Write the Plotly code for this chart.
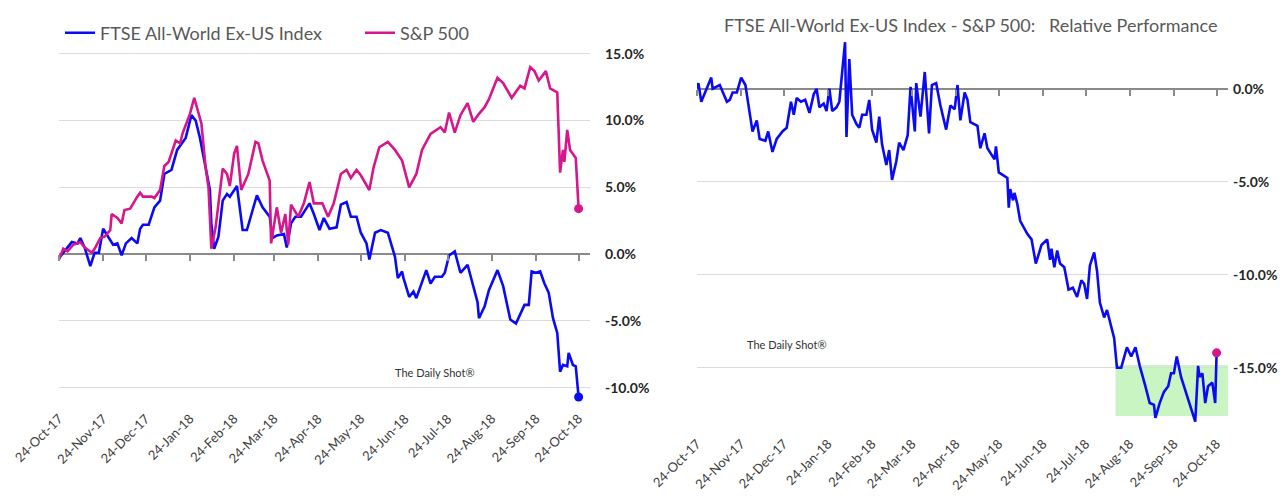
import plotly.graph_objects as go

# ---------------- data ----------------
ftse_dates = ["2017-10-24","2017-11-02","2017-11-06","2017-11-08","2017-11-11","2017-11-15","2017-11-18","2017-11-21",
    "2017-11-24","2017-11-27","2017-12-01","2017-12-04","2017-12-07","2017-12-10","2017-12-14","2017-12-18","2017-12-20",
    "2017-12-22","2017-12-26","2017-12-30","2018-01-03","2018-01-06","2018-01-11","2018-01-15","2018-01-21","2018-01-25",
    "2018-01-28","2018-01-31","2018-02-04","2018-02-07","2018-02-08","2018-02-10","2018-02-13","2018-02-16","2018-02-19",
    "2018-02-21","2018-02-26","2018-03-02","2018-03-05","2018-03-08","2018-03-12","2018-03-16","2018-03-21","2018-03-23",
    "2018-03-26","2018-03-31","2018-04-02","2018-04-05","2018-04-08","2018-04-12","2018-04-18","2018-04-21","2018-04-25",
    "2018-04-28","2018-05-02","2018-05-07","2018-05-10","2018-05-14","2018-05-17","2018-05-21","2018-05-24","2018-05-28",
    "2018-05-30","2018-06-03","2018-06-07","2018-06-12","2018-06-15","2018-06-17","2018-06-19","2018-06-22","2018-06-23",
    "2018-06-27","2018-06-30","2018-07-02","2018-07-09","2018-07-12","2018-07-15","2018-07-20","2018-07-22","2018-07-25",
    "2018-07-29","2018-08-02","2018-08-07","2018-08-11","2018-08-14","2018-08-15","2018-08-19","2018-08-22","2018-08-28",
    "2018-09-01","2018-09-06","2018-09-10","2018-09-16","2018-09-19","2018-09-21","2018-09-24","2018-09-27","2018-09-30",
    "2018-10-03","2018-10-06","2018-10-09","2018-10-11","2018-10-13","2018-10-16","2018-10-17","2018-10-20","2018-10-22",
    "2018-10-24"]
ftse_vals = [-0.3,0.9,0.8,1.2,0.5,-0.9,0.1,0.1,
    1.9,1.4,0.7,0.8,-0.1,0.8,1.2,0.8,1.9,
    2.2,2.2,3.5,4.0,6.0,6.3,7.8,8.7,10.4,
    10.0,8.7,6.5,4.8,2.3,0.4,1.3,4.0,4.5,
    4.3,5.1,1.8,1.8,3.0,4.4,3.5,2.8,1.2,
    1.4,1.5,0.5,2.3,2.8,2.8,3.8,3.0,1.8,
    2.7,1.9,2.0,3.7,3.9,2.8,2.8,1.6,0.8,
    -0.4,1.6,1.8,1.6,0.5,-0.2,-1.8,-1.3,-1.8,
    -3.2,-2.8,-3.3,-1.2,-2.2,-1.7,-1.7,-1.4,-0.1,
    0.2,-1.4,-0.8,-2.5,-3.6,-4.8,-3.9,-2.7,-1.2,
    -2.4,-4.9,-5.2,-3.8,-3.8,-1.3,-1.4,-1.3,-2.2,
    -2.9,-4.8,-5.9,-8.8,-8.3,-8.4,-7.4,-8.3,-8.4,
    -10.7]

spx_dates = ["2017-10-24","2017-10-27","2017-10-30","2017-11-03","2017-11-08","2017-11-11","2017-11-16","2017-11-18",
    "2017-11-22","2017-11-25","2017-11-29","2017-11-30","2017-12-04","2017-12-07","2017-12-09","2017-12-13","2017-12-18",
    "2017-12-20","2017-12-22","2017-12-28","2017-12-30","2018-01-03","2018-01-06","2018-01-09","2018-01-14","2018-01-17",
    "2018-01-19","2018-01-24","2018-01-27","2018-01-29","2018-02-01","2018-02-04","2018-02-06","2018-02-07","2018-02-08",
    "2018-02-11","2018-02-16","2018-02-19","2018-02-21","2018-02-24","2018-02-26","2018-03-01","2018-03-06","2018-03-11",
    "2018-03-13","2018-03-16","2018-03-21","2018-03-22","2018-03-26","2018-03-29","2018-04-01","2018-04-03","2018-04-05",
    "2018-04-10","2018-04-14","2018-04-18","2018-04-21","2018-04-27","2018-05-01","2018-05-05","2018-05-10","2018-05-14",
    "2018-05-17","2018-05-21","2018-05-24","2018-05-30","2018-06-02","2018-06-06","2018-06-12","2018-06-17","2018-06-22",
    "2018-06-27","2018-07-02","2018-07-06","2018-07-12","2018-07-19","2018-07-22","2018-07-25","2018-07-29","2018-08-02",
    "2018-08-07","2018-08-11","2018-08-15","2018-08-19","2018-08-22","2018-08-28","2018-09-01","2018-09-07","2018-09-13",
    "2018-09-16","2018-09-20","2018-09-23","2018-09-26","2018-10-01","2018-10-04","2018-10-09","2018-10-11","2018-10-13",
    "2018-10-14","2018-10-16","2018-10-18","2018-10-22","2018-10-24"]
spx_vals = [-0.4,0.4,0.2,0.7,0.9,0.5,0.1,0.4,
    1.2,1.3,1.8,3.0,2.7,2.3,3.3,3.4,4.3,
    4.6,4.3,4.3,4.2,4.8,6.6,6.9,8.5,8.3,
    9.1,10.5,11.7,11.0,9.8,6.5,5.0,2.8,0.4,
    2.0,6.4,6.0,5.1,7.5,8.1,4.8,6.0,8.4,
    8.3,7.0,5.5,0.8,3.5,1.6,3.0,0.7,3.7,
    2.8,3.8,5.4,3.8,3.8,2.8,3.8,6.0,6.3,
    5.7,6.3,5.9,4.8,6.5,8.0,8.4,7.8,7.0,
    5.0,6.0,7.8,9.0,9.5,9.1,10.6,9.1,10.4,
    11.3,9.9,10.5,11.0,11.6,13.2,12.8,11.7,12.6,
    12.4,14.0,13.7,13.0,13.7,12.4,12.1,6.1,7.8,
    6.9,9.3,7.8,7.2,3.4]

rel_dates = ["2017-10-24","2017-10-25","2017-10-27","2017-10-31","2017-11-03","2017-11-04","2017-11-09","2017-11-14",
    "2017-11-16","2017-11-18","2017-11-21","2017-11-24","2017-11-27","2017-11-29","2017-12-02","2017-12-05","2017-12-07",
    "2017-12-11","2017-12-13","2017-12-16","2017-12-19","2017-12-23","2017-12-26","2017-12-29","2017-12-31","2018-01-02",
    "2018-01-05","2018-01-08","2018-01-11","2018-01-14","2018-01-16","2018-01-18","2018-01-21","2018-01-23","2018-01-25",
    "2018-01-27","2018-01-30","2018-02-01","2018-02-03","2018-02-05","2018-02-06","2018-02-08","2018-02-10","2018-02-13",
    "2018-02-15","2018-02-17","2018-02-20","2018-02-22","2018-02-24","2018-02-27","2018-03-01","2018-03-03","2018-03-06",
    "2018-03-08","2018-03-10","2018-03-13","2018-03-15","2018-03-18","2018-03-21","2018-03-23","2018-03-26","2018-03-27",
    "2018-03-30","2018-04-02","2018-04-05","2018-04-07","2018-04-10","2018-04-13","2018-04-17","2018-04-20","2018-04-23",
    "2018-04-25","2018-04-27","2018-04-30","2018-05-02","2018-05-04","2018-05-09","2018-05-11","2018-05-14","2018-05-16",
    "2018-05-21","2018-05-22","2018-05-24","2018-05-30","2018-05-31","2018-06-01","2018-06-03","2018-06-04","2018-06-06",
    "2018-06-08","2018-06-13","2018-06-16","2018-06-19","2018-06-23","2018-06-27","2018-06-29","2018-06-30","2018-07-02",
    "2018-07-04","2018-07-06","2018-07-09","2018-07-12","2018-07-15","2018-07-18","2018-07-21","2018-07-23","2018-07-25",
    "2018-07-27","2018-07-30","2018-08-01","2018-08-03","2018-08-06","2018-08-08","2018-08-11","2018-08-13","2018-08-15",
    "2018-08-18","2018-08-22","2018-08-25","2018-08-28","2018-08-31","2018-09-04","2018-09-07","2018-09-10","2018-09-11",
    "2018-09-14","2018-09-17","2018-09-20","2018-09-22","2018-09-24","2018-09-26","2018-09-29","2018-10-02","2018-10-06",
    "2018-10-09","2018-10-11","2018-10-12","2018-10-14","2018-10-16","2018-10-18","2018-10-21","2018-10-23","2018-10-24"]
rel_vals = [0.0,0.3,-0.7,0.0,0.6,0.0,0.2,-0.7,
    -0.6,-0.2,-0.2,0.6,0.2,-0.8,-2.3,-1.7,-2.7,
    -2.8,-2.3,-3.4,-2.7,-2.3,-2.1,-0.7,-1.4,-0.5,
    -0.7,-0.6,-1.3,-0.3,0.0,-1.0,-0.8,-1.2,0.0,
    -1.2,-1.0,-0.7,0.9,2.5,-2.6,1.6,-1.4,-1.9,
    -2.1,-1.4,-1.4,-0.6,-2.2,-2.9,-1.5,-3.0,-4.1,
    -3.3,-4.9,-3.9,-2.9,-3.3,-2.5,0.1,-2.3,0.3,
    -1.5,0.9,-2.4,0.2,0.3,-0.9,-2.2,-0.9,-1.1,
    0.2,-1.7,-0.2,-0.6,-1.8,-2.0,-3.2,-2.4,-3.2,
    -3.8,-3.1,-4.5,-4.8,-6.4,-5.4,-6.0,-5.6,-6.2,
    -7.1,-7.8,-8.1,-9.4,-8.4,-8.1,-9.2,-8.6,-9.6,
    -8.7,-9.4,-9.6,-10.8,-10.7,-11.2,-10.3,-10.5,-11.3,
    -9.5,-8.8,-9.8,-11.5,-12.3,-11.9,-12.9,-13.4,-15.0,
    -15.0,-13.9,-14.4,-13.9,-14.9,-16.0,-16.9,-17.0,-17.7,
    -16.9,-16.3,-16.0,-15.3,-15.3,-14.4,-15.5,-16.2,-17.1,
    -17.9,-14.9,-15.5,-15.3,-16.9,-16.0,-15.8,-16.9,-14.2]

tick_dates = ["2017-10-24","2017-11-24","2017-12-24","2018-01-24","2018-02-24","2018-03-24","2018-04-24",
              "2018-05-24","2018-06-24","2018-07-24","2018-08-24","2018-09-24","2018-10-24"]
tick_labels = ["24-Oct-17","24-Nov-17","24-Dec-17","24-Jan-18","24-Feb-18","24-Mar-18","24-Apr-18",
               "24-May-18","24-Jun-18","24-Jul-18","24-Aug-18","24-Sep-18","24-Oct-18"]
left_yticks = [-10, -5, 0, 5, 10, 15]
right_yticks = [-15, -10, -5, 0]
highlight_x = ["2018-08-14", "2018-11-05"]
highlight_y = [-17.6, -14.85]

# ---------------- style ----------------
PAGE_W, PAGE_H = 1288, 499
OFF = 8                      # default page body margin
W, H = PAGE_W - OFF, PAGE_H - OFF
BLUE = "#0a0af5"
PINK = "#d6168c"
GRID = "#dcdcdc"
ZERO = "#8a8a8a"
FONT = "Lato"

left_xrange = ["2017-10-24", "2018-11-01"]
right_xrange = ["2017-10-24", "2018-11-01"]
left_yrange = [-11.5, 16.5]
right_yrange = [-18.5, 2.7]

def fx(px):
    return (px - OFF) / W

def fy(py):
    return 1 - (py - OFF) / H

def px_dom(a, b):
    return [fx(a), fx(b)]

def py_dom(top, bottom):
    return [fy(bottom), fy(top)]

lx = px_dom(59, 590)
rx = px_dom(697, 1228)
ly = py_dom(33.7, 407.7)
ry = py_dom(38.5, 432.8)

def zero_pos(dom, rng):
    return dom[0] + (0 - rng[0]) / (rng[1] - rng[0]) * (dom[1] - dom[0])

def pct(vals):
    return [f"{v:.1f}%" for v in vals]

fig = go.Figure()

fig.add_trace(go.Scatter(x=ftse_dates, y=ftse_vals, mode="lines", name="FTSE All-World Ex-US Index",
                         line=dict(color=BLUE, width=2.6), xaxis="x", yaxis="y"))
fig.add_trace(go.Scatter(x=spx_dates, y=spx_vals, mode="lines", name="S&P 500",
                         line=dict(color=PINK, width=2.6), xaxis="x", yaxis="y"))
fig.add_trace(go.Scatter(x=[ftse_dates[-1]], y=[ftse_vals[-1]], mode="markers", showlegend=False,
                         marker=dict(color=BLUE, size=9), xaxis="x", yaxis="y"))
fig.add_trace(go.Scatter(x=[spx_dates[-1]], y=[spx_vals[-1]], mode="markers", showlegend=False,
                         marker=dict(color=PINK, size=9), xaxis="x", yaxis="y"))

fig.add_trace(go.Scatter(x=rel_dates, y=rel_vals, mode="lines", showlegend=False,
                         line=dict(color=BLUE, width=2.6), xaxis="x2", yaxis="y2"))
fig.add_trace(go.Scatter(x=[rel_dates[-1]], y=[rel_vals[-1]], mode="markers", showlegend=False,
                         marker=dict(color=PINK, size=9), xaxis="x2", yaxis="y2"))

# invisible carriers for tick-only axes on the zero lines
fig.add_trace(go.Scatter(x=[tick_dates[0]], y=[0], mode="markers", marker=dict(opacity=0), showlegend=False,
                         hoverinfo="skip", xaxis="x3", yaxis="y"))
fig.add_trace(go.Scatter(x=[tick_dates[0]], y=[0], mode="markers", marker=dict(opacity=0), showlegend=False,
                         hoverinfo="skip", xaxis="x4", yaxis="y2"))

date_font = dict(family=FONT, size=13, color="#404040")
ylab_font = dict(family=FONT, size=14, color="#262626", weight="bold")

common_x = dict(type="date", tickvals=tick_dates, ticktext=tick_labels, tickangle=-45, tickfont=date_font,
                showgrid=False, zeroline=False, showline=False, ticks="", automargin=False)
tick_axis = dict(type="date", anchor="free", tickvals=tick_dates, showticklabels=False,
                 ticks="outside", ticklen=6, tickwidth=1.5, tickcolor=ZERO, showgrid=False,
                 zeroline=False, showline=False, automargin=False)
common_y = dict(side="right", tickfont=ylab_font, showgrid=True, gridcolor=GRID, gridwidth=1.2,
                zeroline=True, zerolinecolor=ZERO, zerolinewidth=2.2, showline=False, ticks="", automargin=False)

fig.update_layout(
    xaxis=dict(domain=lx, range=left_xrange, anchor="y", **common_x),
    xaxis2=dict(domain=rx, range=right_xrange, anchor="y2", **common_x),
    xaxis3=dict(overlaying="x", range=left_xrange, position=zero_pos(ly, left_yrange), **tick_axis),
    xaxis4=dict(overlaying="x2", range=right_xrange, position=zero_pos(ry, right_yrange), **tick_axis),
    yaxis=dict(domain=ly, range=left_yrange, anchor="x", tickvals=left_yticks, ticktext=pct(left_yticks),
               ticklabelstandoff=14, **common_y),
    yaxis2=dict(domain=ry, range=right_yrange, anchor="x2", tickvals=right_yticks, ticktext=pct(right_yticks),
                ticklabelstandoff=4, **common_y),
    width=W, height=H,
    margin=dict(l=0, r=0, t=0, b=0, autoexpand=False),
    paper_bgcolor="white", plot_bgcolor="white",
    showlegend=True,
    legend=dict(orientation="h", x=fx(60), y=fy(33), xanchor="left", yanchor="middle",
                font=dict(family=FONT, size=18, color="#595959"), itemwidth=30,
                entrywidth=255, bgcolor="rgba(0,0,0,0)"),
    font=dict(family=FONT),
)

fig.add_shape(type="rect", xref="x2", yref="y2", x0=highlight_x[0], x1=highlight_x[1],
              y0=highlight_y[0], y1=highlight_y[1], fillcolor="#c9f5c2", line=dict(width=0), layer="below")

fig.add_annotation(text="FTSE All-World Ex-US Index - S&P 500:&nbsp;&nbsp; Relative Performance",
                   xref="paper", yref="paper", x=fx(970), y=fy(25), xanchor="center", yanchor="middle",
                   showarrow=False, font=dict(family=FONT, size=18, color="#595959"))
fig.add_annotation(text="The Daily Shot®", xref="paper", yref="paper", x=fx(435), y=fy(372),
                   xanchor="center", yanchor="middle",
                   showarrow=False, font=dict(family=FONT, size=11, color="#333333"))
fig.add_annotation(text="The Daily Shot®", xref="paper", yref="paper", x=fx(787), y=fy(344),
                   xanchor="center", yanchor="middle",
                   showarrow=False, font=dict(family=FONT, size=11, color="#333333"))

fig.write_html("out.html")
